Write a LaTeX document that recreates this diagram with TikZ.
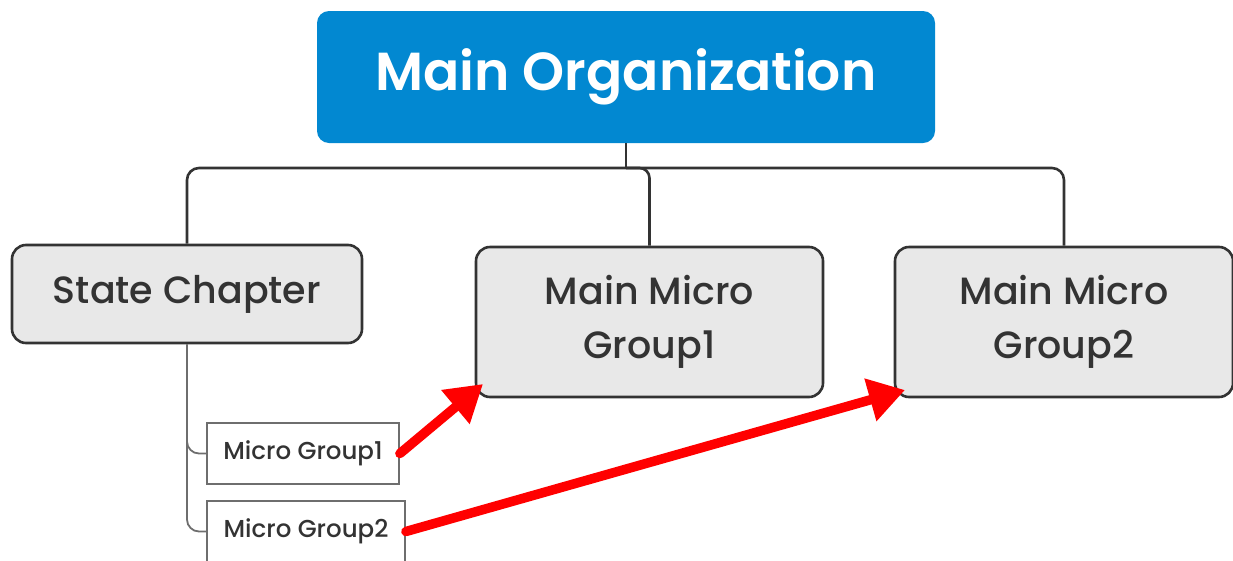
\documentclass[tikz,border=0pt]{standalone}
\usepackage{fontspec}
\setmainfont{Poppins}[UprightFont=* Medium, BoldFont=* SemiBold]
\usetikzlibrary{arrows.meta,calc}
\definecolor{mainblue}{RGB}{2,136,209}
\definecolor{boxgray}{RGB}{232,232,232}
\definecolor{edgegray}{RGB}{51,51,51}
\definecolor{textgray}{RGB}{51,51,51}
\definecolor{subgray}{RGB}{110,110,110}
\tikzset{
  mainbox/.style={rectangle, rounded corners=12pt, fill=mainblue, text=white,
    minimum width=618pt, minimum height=132pt, inner sep=0pt,
    font=\fontsize{53.5}{58}\bfseries\selectfont},
  topicbox/.style={rectangle, rounded corners=14pt, fill=boxgray, draw=edgegray,
    line width=2.6pt, text=textgray, inner sep=0pt, align=center,
    font=\fontsize{38}{54}\selectfont},
  subbox/.style={rectangle, draw=subgray, line width=1.8pt, fill=white,
    text=textgray, inner sep=0pt, minimum height=61pt,
    font=\fontsize{24.5}{26}\selectfont},
  conn/.style={draw=edgegray, line width=2.6pt},
  subconn/.style={draw=subgray, line width=1.8pt, rounded corners=12pt},
  redarrow/.style={draw=red, line width=9.5pt, line cap=round,
    -{Triangle[length=36pt,width=42pt]}},
}
\begin{document}
\begin{tikzpicture}[x=1pt,y=-1pt]
\useasboundingbox (0,0) rectangle (1233,560);
\node[mainbox] (main) at (626,77) {Main Organization};
\node[topicbox, minimum width=350pt, minimum height=98pt] (sc) at (187,294) {State Chapter};
\node[topicbox, minimum width=347pt, minimum height=150pt] (mmg1) at (649.5,322) {Main Micro\\Group1};
\node[topicbox, minimum width=338pt, minimum height=150pt] (mmg2) at (1064,322) {Main Micro\\Group2};
\node[subbox, minimum width=192pt] (mg1) at (303,453.5) {Micro Group1};
\node[subbox, minimum width=198pt] (mg2) at (306,531.5) {Micro Group2};
\coordinate (bar) at (626,168);
\coordinate (tip1) at (483,384);
\coordinate (tip2) at (905,390);
\draw[conn] (main.south) -- (bar);
\draw[conn, rounded corners=12pt] (sc.north) |- (bar) -| (mmg2.north);
\draw[conn, rounded corners=10pt] (bar) -| (mmg1.north);
\draw[subconn] (sc.south) |- (mg1.west);
\draw[subconn] (sc.south) |- (mg2.west);
\draw[redarrow] (mg1.east) -- (tip1);
\draw[redarrow] (mg2.east) -- (tip2);
\end{tikzpicture}
\end{document}
